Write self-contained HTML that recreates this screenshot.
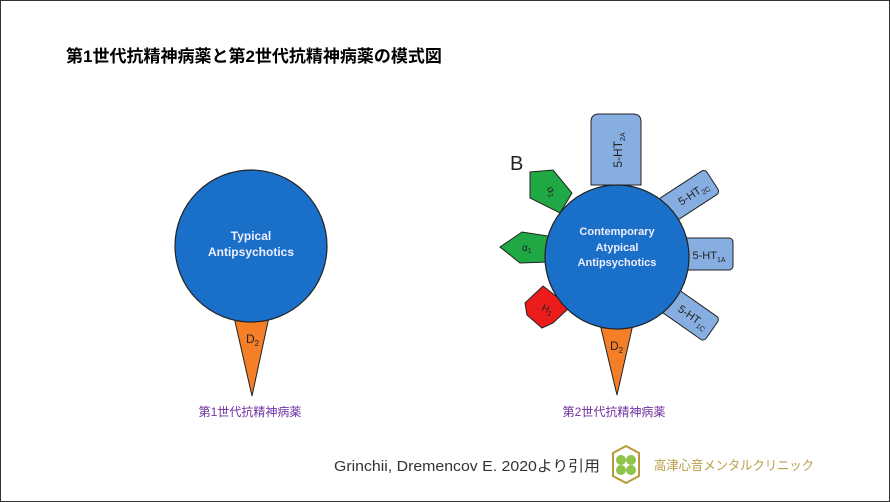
<!DOCTYPE html>
<html><head><meta charset="utf-8"><style>
body{margin:0;background:#fff}
svg{display:block}
text{font-family:"Liberation Sans","Noto Sans CJK JP",sans-serif}
</style></head><body>
<svg width="890" height="502" viewBox="0 0 890 502">
<rect x="0.5" y="0.5" width="889" height="501" fill="#fff" stroke="#333" stroke-width="1"/>
<text x="66" y="62" font-size="17" font-weight="bold" fill="#000">第1世代抗精神病薬と第2世代抗精神病薬の模式図</text>
<!-- left -->
<polygon points="234,317 269,317 252,396" fill="#f47f26" stroke="#222" stroke-width="1"/>
<text x="246" y="343" font-size="12" fill="#222">D<tspan font-size="8" dy="3">2</tspan></text>
<circle cx="251" cy="246" r="76" fill="#1a6fc9" stroke="#222" stroke-width="1.2"/>
<text x="251" y="240" font-size="12" font-weight="bold" fill="#eef" text-anchor="middle">Typical</text>
<text x="251" y="256" font-size="12" font-weight="bold" fill="#eef" text-anchor="middle">Antipsychotics</text>
<text x="250" y="416" font-size="12" fill="#7030a0" text-anchor="middle">第1世代抗精神病薬</text>
<!-- right -->
<text x="510" y="170" font-size="20" fill="#222">B</text>
<path d="M591,185 V122 Q591,114 599,114 H633 Q641,114 641,122 V185 Z" fill="#86aee0" stroke="#222"/>
<text transform="translate(622,150) rotate(-90)" font-size="12" fill="#222" text-anchor="middle">5-HT<tspan font-size="7" dy="3">2A</tspan></text>
<g transform="translate(689,196) rotate(-33)"><rect x="-28" y="-14" width="56" height="28" rx="4" fill="#86aee0" stroke="#222"/><text x="5" y="4" font-size="11" fill="#222" text-anchor="middle">5-HT<tspan font-size="7" dy="3">2C</tspan></text></g>
<rect x="679" y="238" width="54" height="32" rx="4" fill="#86aee0" stroke="#222"/>
<text x="709" y="259" font-size="11" fill="#222" text-anchor="middle">5-HT<tspan font-size="7" dy="3">1A</tspan></text>
<g transform="translate(689,314) rotate(35)"><rect x="-28" y="-14" width="56" height="28" rx="4" fill="#86aee0" stroke="#222"/><text x="5" y="4" font-size="11" fill="#222" text-anchor="middle">5-HT<tspan font-size="7" dy="3">1C</tspan></text></g>
<polygon points="530,172 553,170 572,193 560,213 530,198" fill="#1fa844" stroke="#222"/>
<text transform="translate(549,193) rotate(60)" font-size="10" fill="#222" text-anchor="middle">α<tspan font-size="7" dy="2">2</tspan></text>
<polygon points="500,247 522,232 548,236 548,262 520,263" fill="#1fa844" stroke="#222"/>
<text x="522" y="251" font-size="10" fill="#222">α<tspan font-size="7" dy="2">1</tspan></text>
<polygon points="525,303 543,286 570,307 553,323 542,328 527,315" fill="#ec1c1c" stroke="#222"/>
<text transform="translate(541,310) rotate(25)" font-size="10" fill="#222">H<tspan font-size="7" dy="2">1</tspan></text>
<polygon points="600,324 633,324 617,395" fill="#f47f26" stroke="#222"/>
<text x="610" y="350" font-size="12" fill="#222">D<tspan font-size="8" dy="3">2</tspan></text>
<circle cx="617" cy="257" r="72" fill="#1a6fc9" stroke="#222" stroke-width="1.2"/>
<text x="617" y="235" font-size="11" font-weight="bold" fill="#eef" text-anchor="middle">Contemporary</text>
<text x="617" y="251" font-size="11" font-weight="bold" fill="#eef" text-anchor="middle">Atypical</text>
<text x="617" y="266" font-size="11" font-weight="bold" fill="#eef" text-anchor="middle">Antipsychotics</text>
<text x="614" y="416" font-size="12" fill="#7030a0" text-anchor="middle">第2世代抗精神病薬</text>
<!-- footer -->
<text x="334" y="471" font-size="15" fill="#333" textLength="266" lengthAdjust="spacingAndGlyphs">Grinchii, Dremencov E. 2020より引用</text>
<polygon points="626,446 639,453 639,476 626,483 613,476 613,453" fill="#fff" stroke="#b89a3a" stroke-width="2"/>
<circle cx="621" cy="460" r="5" fill="#8fc34a"/><circle cx="631" cy="460" r="5" fill="#8fc34a"/>
<circle cx="621" cy="470" r="5" fill="#8fc34a"/><circle cx="631" cy="470" r="5" fill="#8fc34a"/>
<text x="654" y="470" font-size="13" fill="#b8a048" textLength="160" lengthAdjust="spacingAndGlyphs">高津心音メンタルクリニック</text>
</svg>
</body></html>
